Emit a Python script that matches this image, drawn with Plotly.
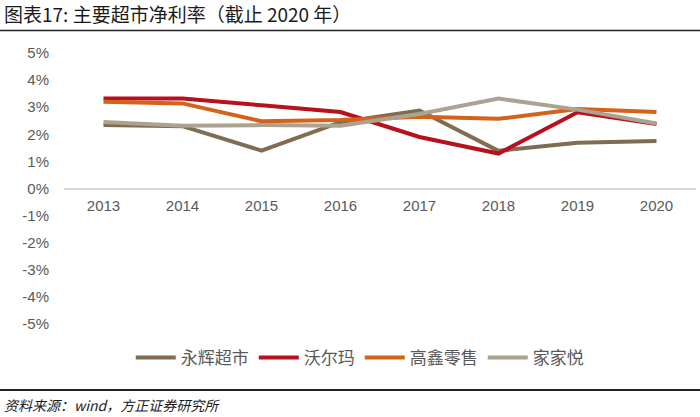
import plotly.graph_objects as go

# years on the category axis
years = ["2013", "2014", "2015", "2016", "2017", "2018", "2019", "2020"]

# net margin, %
yonghui = [2.34, 2.30, 1.40, 2.45, 2.88, 1.39, 1.69, 1.75]
walmart = [3.32, 3.32, 3.07, 2.82, 1.90, 1.29, 2.81, 2.38]
sunart = [3.20, 3.14, 2.48, 2.53, 2.65, 2.57, 2.93, 2.82]
jiajiayue = [2.45, 2.32, 2.34, 2.32, 2.75, 3.32, 2.91, 2.40]

names = ["永辉超市", "沃尔玛", "高鑫零售", "家家悦"]
colors = ["#7f6d52", "#b8101c", "#d4621a", "#aca291"]

# y tick labels, with a plain hyphen like the original
y_ticks = [5, 4, 3, 2, 1, 0, -1, -2, -3, -4, -5]
y_labels = ["5%", "4%", "3%", "2%", "1%", "0%", "-1%", "-2%", "-3%", "-4%", "-5%"]

cn_font = "Noto Sans CJK SC"
tick_font = dict(family="Liberation Sans Narrow, Arial Narrow, Liberation Sans", size=15, color="#595959")

fig = go.Figure()
for name, vals, col in zip(names, [yonghui, walmart, sunart, jiajiayue], colors):
    fig.add_trace(go.Scatter(x=years, y=vals, mode="lines", name=name,
                             line=dict(color=col, width=4)))

fig.update_layout(
    width=700, height=417,
    margin=dict(l=64, r=4, t=53, b=93),
    paper_bgcolor="white", plot_bgcolor="white",
    showlegend=True,
    legend=dict(orientation="h", x=0.468, y=-0.125, xanchor="center", yanchor="middle",
                font=dict(family=cn_font, size=17, color="#595959"),
                itemwidth=40, tracegroupgap=0),
    xaxis=dict(type="category", range=[-0.5, 7.5], anchor="free", position=0.5,
               showline=True, linecolor="#d9d9d9", linewidth=1.5, showgrid=False,
               ticks="", tickfont=tick_font, ticklabelstandoff=4, fixedrange=True),
    yaxis=dict(range=[-5, 5], tickvals=y_ticks, ticktext=y_labels, showgrid=False,
               zeroline=False, showline=False, ticks="", tickfont=tick_font,
               ticklabelstandoff=14, fixedrange=True),
    font=dict(family=cn_font),
)

# figure title and frame lines of the report
fig.add_annotation(text="图表17: 主要超市净利率（截止 2020 年）", xref="paper", yref="paper",
                   x=-62/632, y=1 + (53 - 14) / 271, xanchor="left", yanchor="middle",
                   showarrow=False, font=dict(family=cn_font, size=19, color="#1a1a1a"))
fig.add_annotation(text="<i>资料来源：wind，方正证券研究所</i>", xref="paper", yref="paper",
                   x=-62/632, y=-(405 - 324) / 271, xanchor="left", yanchor="middle",
                   showarrow=False, font=dict(family=cn_font, size=14, color="#1a1a1a"))
fig.add_shape(type="line", xref="paper", yref="paper", x0=-64/632, x1=1 + 4/632,
              y0=1 + (53 - 30.5) / 271, y1=1 + (53 - 30.5) / 271,
              line=dict(color="#222222", width=1.5))
fig.add_shape(type="line", xref="paper", yref="paper", x0=-64/632, x1=1 + 4/632,
              y0=-(390 - 324) / 271, y1=-(390 - 324) / 271,
              line=dict(color="#222222", width=2))

fig.write_html("out.html", config={"displayModeBar": False},
               post_script="document.body.style.margin='0';")
